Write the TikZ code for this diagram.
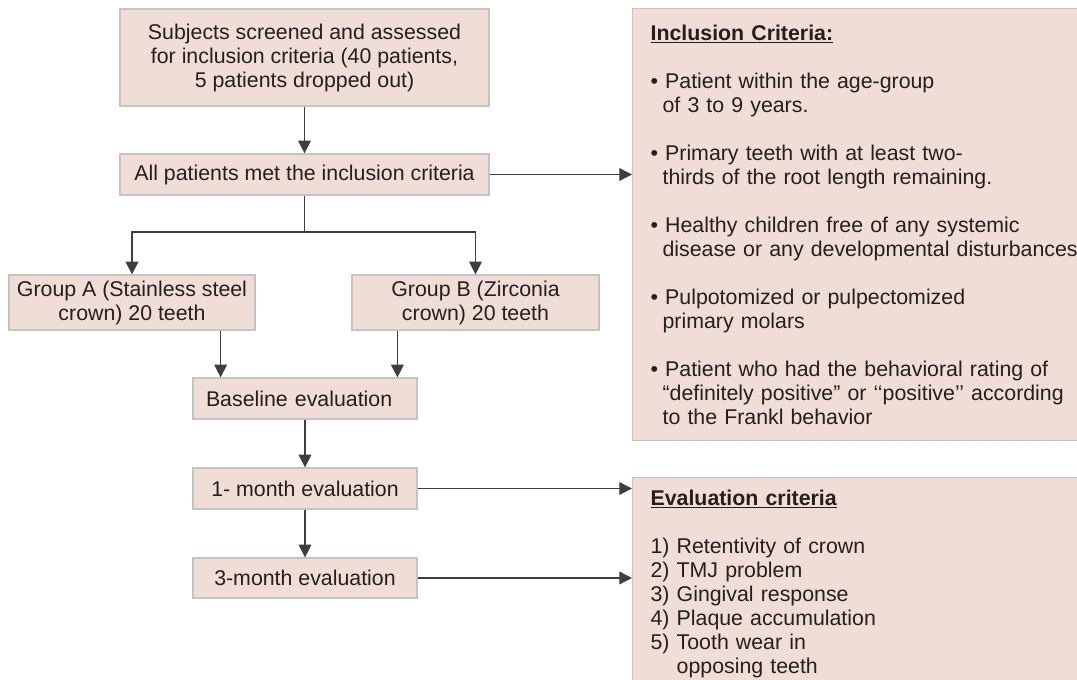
\documentclass[tikz,border=0pt]{standalone}
\usepackage{fontspec}
\setmainfont{Liberation Sans}
\usetikzlibrary{arrows.meta,positioning,calc}

\definecolor{boxfill}{RGB}{240,221,213}
\definecolor{boxline}{RGB}{196,196,196}
\definecolor{arrline}{RGB}{62,62,62}
\definecolor{txt}{RGB}{35,31,32}
\newcommand{\bulgap}{\hspace*{9pt}}
\newcommand{\numgap}{\phantom{5)\ }}

\begin{document}
\begin{tikzpicture}[
    x=0.75pt, y=-0.75pt,
    flow/.style={rectangle, draw=boxline, line width=0.9pt, fill=boxfill, text=txt, align=center, inner sep=2pt, font=\fontsize{16}{18}\selectfont},
    crit/.style={rectangle, draw=boxline, line width=0.9pt, fill=boxfill, text=txt, align=left, text width=330pt, inner xsep=13.5pt, anchor=north west, font=\fontsize{16}{18}\selectfont},
    arr/.style={-{Triangle[length=9.5pt,width=9.5pt]}, line width=0.9pt, draw=arrline}
]
% page frame (pixels)
\clip (0,0) rectangle (1077,680);

\node[flow, minimum width=276.75pt, minimum height=72.75pt] (screen) at (304.5,57.5) {Subjects screened and assessed\\for inclusion criteria (40 patients,\\5 patients dropped out)};
\node[flow, minimum width=276.75pt, minimum height=30.75pt] (met) at (304.5,174.5) {All patients met the inclusion criteria};
\node[flow, minimum width=184.5pt, minimum height=41.25pt] (grpA) at (132,302.5) {Group A (Stainless steel\\crown) 20 teeth};
\node[flow, minimum width=185.25pt, minimum height=41.25pt] (grpB) at (475.5,302.5) {Group B (Zirconia\\crown) 20 teeth};
\node[flow, minimum width=168pt, minimum height=30.75pt, align=left, text width=148.5pt, inner xsep=9.75pt] (base) at (305,398.5) {Baseline evaluation};
\node[flow, minimum width=168pt, minimum height=30.75pt] (month1) at (305,488.5) {1- month evaluation};
\node[flow, minimum width=168pt, minimum height=30pt] (month3) at (305,578) {3-month evaluation};

\node[crit, minimum width=351pt, minimum height=324pt] (incl) at (632,8) {%
\underline{\textbf{Inclusion Criteria:}}\\[18pt]
• Patient within the age-group\\\bulgap of 3 to 9 years.\\[18pt]
• Primary teeth with at least two-\\\bulgap thirds of the root length remaining.\\[18pt]
• Healthy children free of any systemic\\\bulgap disease or any developmental disturbances\\[18pt]
• Pulpotomized or pulpectomized\\\bulgap primary molars\\[18pt]
• Patient who had the behavioral rating of\\\bulgap “definitely positive” or ‘‘positive’’ according\\\bulgap to the Frankl behavior};
\node[crit, minimum width=351pt, inner ysep=9pt] (evalc) at (632,477) {%
\underline{\textbf{Evaluation criteria}}\\[18pt]
1) Retentivity of crown\\
2) TMJ problem\\
3) Gingival response\\
4) Plaque accumulation\\
5) Tooth wear in\\\numgap opposing teeth};

\coordinate (fork) at (304.5,232);

\draw[arr] (screen) -- (met);
\draw[line width=0.9pt, draw=arrline] (met) -- (fork);
\draw[arr] (fork) -| (grpA.north);
\draw[arr] (fork) -| (grpB.north);
\draw[arr] ($(grpA.south east)+(-35,0)$) coordinate (a1) -- (a1 |- base.north);
\draw[arr] ($(grpB.south west)+(46,0)$) coordinate (b1) -- (b1 |- base.north);
\draw[arr] (base) -- (month1);
\draw[arr] (month1) -- (month3);

\draw[arr] (met.east) -- (met.east -| incl.west);
\draw[arr] (month1.east) -- (month1.east -| evalc.west);
\draw[arr] (month3.east) -- (month3.east -| evalc.west);
\end{tikzpicture}
\end{document}
